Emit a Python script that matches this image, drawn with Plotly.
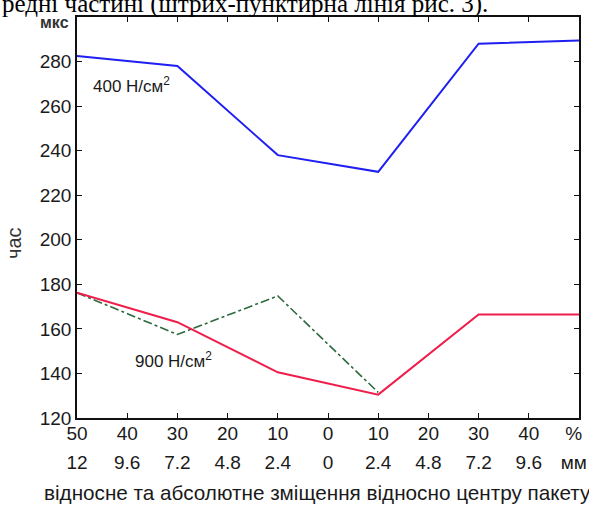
import plotly.graph_objects as go

# ---- data ----
x_pos = [-50, -40, -30, -20, -10, 0, 10, 20, 30, 40, 50]
tick_pct = ["50", "40", "30", "20", "10", "0", "10", "20", "30", "40", "%\u00a0\u00a0"]
tick_mm = ["12", "9.6", "7.2", "4.8", "2.4", "0", "2.4", "4.8", "7.2", "9.6", "мм\u00a0\u00a0"]

x_400 = [-50, -30, -10, 10, 30, 50]
y_400 = [282.5, 278, 238, 230.5, 288, 289.5]

x_900 = [-50, -30, -10, 10, 30, 50]
y_900 = [176.2, 163, 140.5, 130.5, 166.5, 166.5]

x_900b = [-50, -30, -10, 10]
y_900b = [176.2, 157.5, 174.8, 131.5]

y_ticks = [120, 140, 160, 180, 200, 220, 240, 260, 280]

W, H = 589, 505
ML, MR, MT, MB = 77, 10, 17, 56
plot_w = W - ML - MR
area_h = H - MT - MB
plot_bottom = 418
dom0 = (H - MB - plot_bottom) / area_h

def px_x(px):
    return (px - ML) / plot_w

def px_y(py):
    return (H - MB - py) / area_h

font_sans = "Liberation Sans, Arial, sans-serif"

fig = go.Figure()
fig.add_trace(go.Scatter(x=x_900b, y=y_900b, mode="lines",
                         line=dict(color="#2d6a3e", width=1.6, dash="dashdot"),
                         showlegend=False))
fig.add_trace(go.Scatter(x=x_900, y=y_900, mode="lines",
                         line=dict(color="#ee1d4a", width=2),
                         showlegend=False))
fig.add_trace(go.Scatter(x=x_400, y=y_400, mode="lines",
                         line=dict(color="#1f1ff2", width=2),
                         showlegend=False))
# invisible trace for second x axis
fig.add_trace(go.Scatter(x=[x_pos[0], x_pos[-1]], y=[y_ticks[0], y_ticks[0]],
                         xaxis="x2", mode="lines", line=dict(width=0),
                         hoverinfo="skip", showlegend=False))

fig.update_layout(
    width=W, height=H,
    margin=dict(l=ML, r=MR, t=MT, b=MB, autoexpand=False),
    paper_bgcolor="white", plot_bgcolor="white",
    font=dict(family=font_sans, color="#1a1a1a"),
    xaxis=dict(range=[-50, 50], tickvals=x_pos, ticktext=tick_pct,
               ticks="inside", ticklen=5, tickwidth=1.3, tickcolor="#111",
               showline=True, linecolor="#111", linewidth=1.5, mirror="ticks",
               showgrid=False, zeroline=False, automargin=False,
               ticklabelstandoff=-3, ticklabeloverflow="allow",
               tickfont=dict(size=19, family=font_sans, color="#1a1a1a"),
               anchor="y"),
    xaxis2=dict(range=[-50, 50], tickvals=x_pos, ticktext=tick_mm,
                overlaying="x", matches="x", anchor="free", position=0,
                side="bottom", showline=False, ticks="", showgrid=False,
                zeroline=False, automargin=False, ticklabeloverflow="allow",
                tickfont=dict(size=19, family=font_sans, color="#1a1a1a")),
    yaxis=dict(range=[120, 300], tickvals=y_ticks, domain=[dom0, 1],
               ticks="inside", ticklen=5, tickwidth=1.3, tickcolor="#111",
               showline=True, linecolor="#111", linewidth=1.5, mirror="ticks",
               showgrid=False, zeroline=False, automargin=False,
               tickfont=dict(size=19, family=font_sans, color="#1a1a1a")),
)

annots = [
    dict(text="редні частині (штрих-пунктирна лінія рис. 3).",
         x=px_x(0), y=px_y(4), xanchor="left", yanchor="middle",
         font=dict(family="Liberation Serif, Times New Roman, serif", size=25, color="black")),
    dict(text="<b>мкс</b>", x=px_x(71), y=px_y(23), xanchor="right", yanchor="middle",
         font=dict(size=16, color="#333")),
    dict(text="час", x=px_x(14), y=px_y(243), xanchor="center", yanchor="middle",
         textangle=-90, font=dict(size=20, color="#333")),
    dict(text="400 Н/см<sup>2</sup>", x=px_x(91), y=px_y(85), xanchor="left", yanchor="middle",
         font=dict(size=17, color="#1a1a1a")),
    dict(text="900 Н/см<sup>2</sup>", x=px_x(133), y=px_y(360), xanchor="left", yanchor="middle",
         font=dict(size=17, color="#1a1a1a")),
    dict(text="відносне та абсолютне зміщення відносно центру пакету",
         x=px_x(42), y=px_y(492), xanchor="left", yanchor="middle",
         font=dict(size=20.7, color="#1a1a1a")),
]
for a in annots:
    a.update(xref="paper", yref="paper", showarrow=False)
fig.update_layout(annotations=annots)

fig.write_html("out.html", config={"displayModeBar": False},
               post_script="document.body.style.margin='0';document.body.style.overflow='hidden';")
